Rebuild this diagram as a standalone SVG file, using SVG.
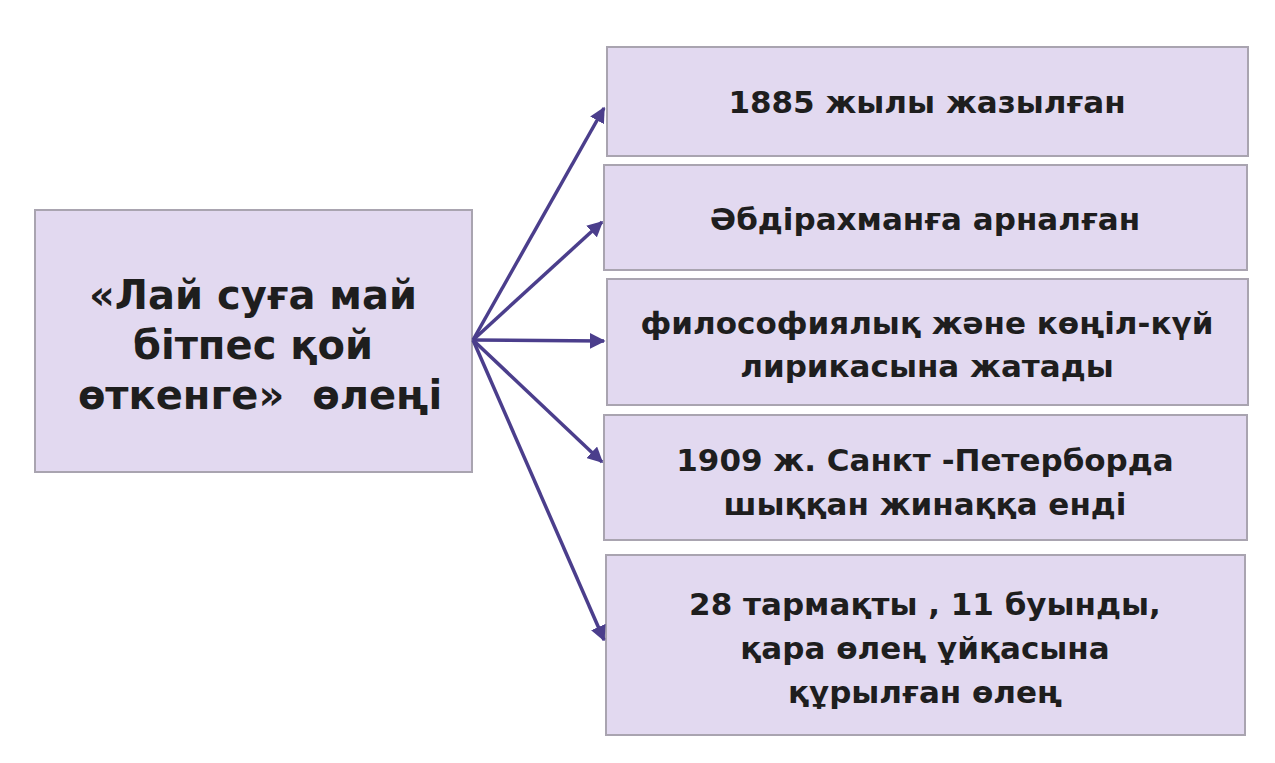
<svg xmlns="http://www.w3.org/2000/svg" width="1275" height="763" viewBox="0 0 1275 763">
<style>
.b{fill:#e2d9f0;stroke:#a9a4b0;stroke-width:2}
.t{font-family:"DejaVu Sans",Verdana,sans-serif;font-weight:bold;fill:#1e1e1e;text-anchor:middle}
.s{font-size:31px}.l{font-size:40px}
.c{stroke:#4b3e8c;stroke-width:3.5;fill:none;marker-end:url(#a)}
</style>
<defs><marker id="a" viewBox="0 0 10 10" refX="9" refY="5" markerWidth="4.5" markerHeight="4.5" orient="auto" markerUnits="strokeWidth"><path d="M0,0L10,5L0,10z" fill="#4b3e8c"/></marker></defs>
<rect width="1275" height="763" fill="#fff"/>
<g id="n0"><rect class="b" x="35" y="210" width="437" height="262"/>
<text class="t l" x="253" y="309">«Лай суға май</text><text class="t l" x="253" y="359">бітпес қой</text><text class="t l" x="260" y="409" xml:space="preserve">өткенге»  өлеңі</text></g>
<g id="n1"><rect class="b" x="607" y="47" width="641" height="109"/><text class="t s" x="927" y="113">1885 жылы жазылған</text></g>
<g id="n2"><rect class="b" x="604" y="165" width="643" height="105"/><text class="t s" x="925" y="230">Әбдірахманға арналған</text></g>
<g id="n3"><rect class="b" x="607" y="279" width="641" height="126"/><text class="t s" x="927" y="334">философиялық және көңіл-күй</text><text class="t s" x="927" y="377">лирикасына жатады</text></g>
<g id="n4"><rect class="b" x="604" y="415" width="643" height="125"/><text class="t s" x="925" y="471">1909 ж. Санкт -Петерборда</text><text class="t s" x="925" y="515">шыққан жинаққа енді</text></g>
<g id="n5"><rect class="b" x="606" y="555" width="639" height="180"/><text class="t s" x="925" y="615">28 тармақты , 11 буынды,</text><text class="t s" x="925" y="659">қара өлең ұйқасына</text><text class="t s" x="925" y="703">құрылған өлең</text></g>
<g id="connectors">
<path class="c" d="M473,340L604,108"/>
<path class="c" d="M473,340L602,222"/>
<path class="c" d="M473,340L604,341"/>
<path class="c" d="M473,340L602,462"/>
<path class="c" d="M473,340L604,640"/>
</g>
</svg>
